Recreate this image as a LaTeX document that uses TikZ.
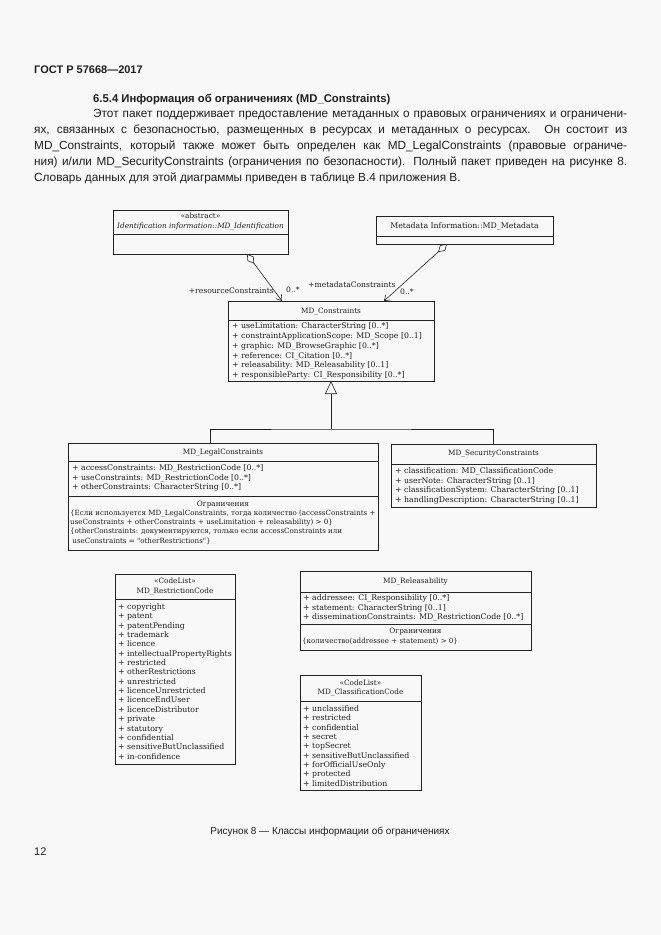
\documentclass[tikz,border=0pt]{standalone}
\usepackage{fontspec}
\setmainfont{Liberation Sans}
\newfontfamily\dgfont{DejaVu Serif}
\usetikzlibrary{arrows.meta}
\definecolor{pagebg}{RGB}{248,248,248}
\definecolor{ink}{RGB}{35,35,35}
\definecolor{txt}{RGB}{30,30,30}
\begin{document}
\begin{tikzpicture}[x=1pt,y=-1pt,
  box/.style={draw=ink, line width=0.7pt, inner sep=0pt, outer sep=0pt, anchor=north west},
  sepl/.style={draw=ink, line width=0.7pt},
  conn/.style={draw=ink, line width=0.6pt},
  dg/.style={font=\dgfont\fontsize{7.8}{9}\selectfont, text=txt, inner sep=0pt, text height=5.6pt, text depth=1.7pt},
  attr/.style={dg, anchor=west},
  ttl/.style={dg, anchor=center, font=\dgfont\fontsize{7.3}{9}\selectfont},
  cnst/.style={attr, font=\dgfont\fontsize{7.1}{9}\selectfont},
  lbl/.style={dg, font=\dgfont\fontsize{7.6}{9}\selectfont},
  body/.style={font=\fontsize{11.8}{16}\selectfont, text=txt, inner sep=0pt, anchor=base west},
]
\fill[pagebg] (0,0) rectangle (661,935);
\useasboundingbox (0,0) rectangle (661,935);

% ---- page text ----
\node[body, font=\bfseries\fontsize{11}{13}\selectfont] (hdr) at (34,73) {ГОСТ Р 57668—2017};
\node[body, font=\bfseries\fontsize{11.3}{14}\selectfont] (h654) at (93,102) {6.5.4 Информация об ограничениях (MD\_Constraints)};
\node[body] (p1) at (93,117) {\makebox[534pt][s]{Этот пакет поддерживает предоставление метаданных о правовых ограничениях и ограничени-}};
\node[body] (p2) at (34,133) {\makebox[593pt][s]{ях, связанных с безопасностью, размещенных в ресурсах и метаданных о ресурсах. Он состоит из}};
\node[body] (p3) at (34,149) {\makebox[593pt][s]{MD\_Constraints, который также может быть определен как MD\_LegalConstraints (правовые ограниче-}};
\node[body] (p4) at (34,165) {\makebox[593pt][s]{ния) и/или MD\_SecurityConstraints (ограничения по безопасности). Полный пакет приведен на рисунке 8.}};
\node[body] (p5) at (34,181) {Словарь данных для этой диаграммы приведен в таблице В.4 приложения В.};

% ---- Identification ----
\node[box, minimum width=175pt, minimum height=44pt] (ident) at (113,210) {};
\draw[sepl] (113,234) -- (288,234);
\node[ttl] (identst) at (200.5,216.5) {«abstract»};
\node[ttl, font=\dgfont\itshape\fontsize{7.3}{9}\selectfont] (identt) at (200.5,227) {Identification information::MD\_Identification};

% ---- Metadata ----
\node[box, minimum width=177pt, minimum height=28pt] (meta) at (376,216) {};
\draw[sepl] (376,236) -- (553,236);
\node[ttl, font=\dgfont\fontsize{7.8}{9}\selectfont] (metat) at (464.5,227) {Metadata Information::MD\_Metadata};

% ---- MD_Constraints ----
\node[box, minimum width=206pt, minimum height=80pt] (cons) at (228,301) {};
\draw[sepl] (228,320) -- (434,320);
\node[ttl] (const) at (331,311.5) {MD\_Constraints};
\foreach \t [count=\i] in {{+ useLimitation: CharacterString [0..*]},
  {+ constraintApplicationScope: MD\_Scope [0..1]},
  {+ graphic: MD\_BrowseGraphic [0..*]},
  {+ reference: CI\_Citation [0..*]},
  {+ releasability: MD\_Releasability [0..1]},
  {+ responsibleParty: CI\_Responsibility [0..*]}}
  \node[attr] (consa\i) at (232,{327+(\i-1)*9.7}) {\t};

% ---- associations ----
\draw[conn, {Diamond[open,length=12pt,width=7.5pt]}-{Straight Barb[length=5pt,width=7pt]}]
  ([xshift=134pt]ident.south west) -- ([xshift=54pt]cons.north west);
\draw[conn, {Diamond[open,length=12pt,width=7.5pt]}-{Straight Barb[length=5pt,width=7pt]}]
  ([xshift=71pt]meta.south west) -- ([xshift=156pt]cons.north west);
\node[lbl, anchor=east] (lres) at (274,292) {+resourceConstraints};
\node[lbl, anchor=west] (mres) at (286,290.5) {0..*};
\node[lbl, anchor=west] (lmeta) at (308,286) {+metadataConstraints};
\node[lbl, anchor=west] (mmeta) at (400,292.5) {0..*};

% ---- MD_LegalConstraints ----
\node[box, minimum width=310pt, minimum height=107pt] (legal) at (68,443) {};
\draw[sepl] (68,461) -- (378,461);
\draw[sepl] (68,496) -- (378,496);
\node[ttl] (legalt) at (223,452.5) {MD\_LegalConstraints};
\foreach \t [count=\i] in {{+ accessConstraints: MD\_RestrictionCode [0..*]},
  {+ useConstraints: MD\_RestrictionCode [0..*]},
  {+ otherConstraints: CharacterString [0..*]}}
  \node[attr] (legala\i) at (72,{469+(\i-1)*9.5}) {\t};
\node[ttl] (legalc) at (223,504.5) {Ограничения};
\foreach \t [count=\i] in {{\{Если используется MD\_LegalConstraints, тогда количество (accessConstraints +},
  {useConstraints + otherConstraints + useLimitation + releasability) > 0\}},
  {\{otherConstraints: документируются, только если accessConstraints или},
  {\ useConstraints = "otherRestrictions"\}}}
  \node[cnst] (legalk\i) at (70,{513.5+(\i-1)*9.2}) {\t};

% ---- MD_SecurityConstraints ----
\node[box, minimum width=205pt, minimum height=63pt] (sec) at (391,444) {};
\draw[sepl] (391,464) -- (596,464);
\node[ttl] (sect) at (493.5,454) {MD\_SecurityConstraints};
\foreach \t [count=\i] in {{+ classification: MD\_ClassificationCode},
  {+ userNote: CharacterString [0..1]},
  {+ classificationSystem: CharacterString [0..1]},
  {+ handlingDescription: CharacterString [0..1]}}
  \node[attr] (seca\i) at (395,{471.5+(\i-1)*9.6}) {\t};

% ---- generalization ----
\coordinate (j) at (331,429);
\draw[conn] ([xshift=142pt]legal.north west) |- (j) -| (sec.north);
\draw[conn, -{Triangle[open,length=13pt,width=12pt]}] (j) -- (cons.south);

% ---- MD_RestrictionCode ----
\node[box, minimum width=120pt, minimum height=190pt] (rc) at (115,574) {};
\draw[sepl] (115,599) -- (235,599);
\node[ttl] (rcst) at (175,581.5) {«CodeList»};
\node[ttl] (rct) at (175,591.5) {MD\_RestrictionCode};
\foreach \t [count=\i] in {copyright, patent, patentPending, trademark, licence,
  intellectualPropertyRights, restricted, otherRestrictions, unrestricted,
  licenceUnrestricted, licenceEndUser, licenceDistributor, private, statutory,
  confidential, sensitiveButUnclassified, in-confidence}
  \node[attr] (rca\i) at (118,{607.5+(\i-1)*9.35}) {+ \t};

% ---- MD_Releasability ----
\node[box, minimum width=231pt, minimum height=79pt] (rel) at (300,571) {};
\draw[sepl] (300,592) -- (531,592);
\draw[sepl] (300,624) -- (531,624);
\node[ttl] (relt) at (415.5,582) {MD\_Releasability};
\foreach \t [count=\i] in {{+ addressee: CI\_Responsibility [0..*]},
  {+ statement: CharacterString [0..1]},
  {+ disseminationConstraints: MD\_RestrictionCode [0..*]}}
  \node[attr] (rela\i) at (303,{599+(\i-1)*9.3}) {\t};
\node[ttl] (relc) at (415.5,632) {Ограничения};
\node[cnst] (relk) at (302,641.5) {\{количество(addressee + statement) > 0\}};

% ---- MD_ClassificationCode ----
\node[box, minimum width=121pt, minimum height=115pt] (cc) at (300,675) {};
\draw[sepl] (300,701) -- (421,701);
\node[ttl] (ccst) at (360.5,683.5) {«CodeList»};
\node[ttl] (cct) at (360.5,693) {MD\_ClassificationCode};
\foreach \t [count=\i] in {unclassified, restricted, confidential, secret, topSecret,
  sensitiveButUnclassified, forOfficialUseOnly, protected, limitedDistribution}
  \node[attr] (cca\i) at (303,{709.5+(\i-1)*9.35}) {+ \t};

% ---- caption ----
\node[font=\fontsize{10}{12}\selectfont, text=txt, inner sep=0pt, anchor=base] (cap) at (330,834) {Рисунок 8 — Классы информации об ограничениях};
\node[body, font=\fontsize{11}{13}\selectfont] (pg) at (34,855) {12};
\end{tikzpicture}
\end{document}
